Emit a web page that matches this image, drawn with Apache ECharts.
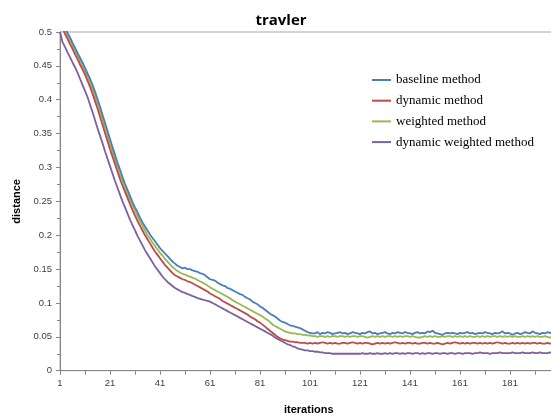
<!DOCTYPE html>
<html>
<head>
<meta charset="utf-8">
<script src="https://cdn.jsdelivr.net/npm/echarts@6/dist/echarts.min.js"></script>
<style>
html,body{margin:0;padding:0;background:#fff;}
#chart{width:551px;height:415px;}
</style>
</head>
<body>
<div id="chart"></div>
<script>
// iterations 1..200
var iterations = [];
for (var k = 1; k <= 200; k++) iterations.push(String(k));

var seriesNames = ['baseline method', 'dynamic method', 'weighted method', 'dynamic weighted method'];

var baseline = [
0.525,0.516,0.507,0.499,0.492,0.484,0.477,0.469,0.462,0.455,
0.447,0.439,0.431,0.422,0.412,0.401,0.390,0.378,0.366,0.354,
0.342,0.330,0.319,0.307,0.297,0.286,0.276,0.267,0.258,0.249,
0.241,0.234,0.226,0.219,0.213,0.207,0.201,0.196,0.191,0.186,
0.181,0.177,0.173,0.169,0.165,0.161,0.158,0.155,0.153,0.151,
0.152,0.150,0.150,0.148,0.147,0.146,0.144,0.143,0.141,0.138,
0.135,0.134,0.133,0.130,0.128,0.126,0.125,0.122,0.121,0.119,
0.117,0.115,0.113,0.112,0.109,0.107,0.105,0.102,0.100,0.098,
0.095,0.093,0.090,0.087,0.084,0.082,0.080,0.077,0.074,0.072,
0.071,0.069,0.067,0.066,0.065,0.064,0.063,0.061,0.059,0.057,
0.056,0.055,0.055,0.057,0.054,0.056,0.055,0.057,0.056,0.054,
0.055,0.056,0.057,0.055,0.056,0.054,0.055,0.057,0.056,0.055,
0.054,0.056,0.055,0.057,0.058,0.055,0.056,0.054,0.055,0.056,
0.057,0.055,0.054,0.056,0.055,0.057,0.056,0.055,0.057,0.056,
0.055,0.054,0.056,0.057,0.055,0.056,0.055,0.058,0.057,0.059,
0.056,0.055,0.054,0.053,0.055,0.056,0.055,0.056,0.055,0.054,
0.056,0.055,0.056,0.057,0.055,0.056,0.054,0.055,0.056,0.055,
0.057,0.056,0.055,0.054,0.056,0.055,0.056,0.058,0.055,0.056,
0.055,0.053,0.055,0.056,0.054,0.055,0.057,0.056,0.055,0.058,
0.056,0.055,0.054,0.056,0.055,0.057,0.056,0.055,0.057,0.056
];

var dynamic = [
0.515,0.506,0.497,0.490,0.482,0.475,0.467,0.460,0.452,0.445,
0.437,0.428,0.419,0.409,0.398,0.387,0.375,0.363,0.351,0.339,
0.327,0.316,0.305,0.294,0.283,0.273,0.264,0.255,0.246,0.237,
0.229,0.221,0.214,0.207,0.200,0.194,0.188,0.182,0.176,0.171,
0.166,0.161,0.156,0.152,0.148,0.144,0.141,0.139,0.137,0.135,
0.134,0.132,0.131,0.129,0.127,0.125,0.123,0.121,0.119,0.117,
0.114,0.112,0.110,0.108,0.106,0.103,0.101,0.099,0.097,0.095,
0.093,0.091,0.089,0.087,0.085,0.083,0.080,0.078,0.076,0.073,
0.071,0.068,0.065,0.062,0.059,0.056,0.053,0.050,0.048,0.046,
0.045,0.044,0.043,0.043,0.042,0.042,0.041,0.041,0.041,0.040,
0.041,0.040,0.041,0.040,0.041,0.042,0.041,0.040,0.041,0.040,
0.041,0.040,0.040,0.041,0.041,0.040,0.041,0.042,0.041,0.040,
0.041,0.040,0.041,0.041,0.040,0.039,0.040,0.041,0.040,0.041,
0.040,0.041,0.040,0.041,0.042,0.041,0.040,0.041,0.040,0.041,
0.041,0.040,0.041,0.040,0.040,0.041,0.041,0.040,0.041,0.040,
0.040,0.041,0.040,0.039,0.040,0.041,0.040,0.041,0.042,0.041,
0.040,0.041,0.040,0.041,0.040,0.041,0.041,0.040,0.041,0.040,
0.041,0.040,0.041,0.040,0.041,0.042,0.041,0.040,0.041,0.040,
0.040,0.041,0.040,0.041,0.040,0.041,0.040,0.041,0.040,0.041,
0.041,0.040,0.041,0.040,0.040,0.041,0.040,0.041,0.040,0.041
];

var weighted = [
0.522,0.513,0.503,0.495,0.488,0.480,0.472,0.465,0.457,0.450,
0.442,0.434,0.425,0.416,0.405,0.394,0.383,0.371,0.359,0.347,
0.335,0.323,0.312,0.301,0.290,0.280,0.270,0.261,0.252,0.244,
0.236,0.228,0.221,0.214,0.207,0.200,0.195,0.189,0.184,0.179,
0.174,0.170,0.165,0.161,0.157,0.153,0.150,0.147,0.145,0.143,
0.142,0.140,0.139,0.137,0.136,0.134,0.132,0.130,0.128,0.126,
0.123,0.121,0.119,0.117,0.115,0.113,0.111,0.109,0.107,0.104,
0.102,0.100,0.098,0.096,0.094,0.092,0.090,0.088,0.086,0.084,
0.082,0.080,0.077,0.075,0.072,0.068,0.066,0.064,0.062,0.060,
0.058,0.057,0.056,0.055,0.055,0.054,0.054,0.053,0.053,0.052,
0.052,0.051,0.051,0.050,0.051,0.051,0.050,0.051,0.050,0.051,
0.051,0.050,0.051,0.051,0.050,0.051,0.050,0.051,0.051,0.050,
0.051,0.051,0.050,0.049,0.050,0.051,0.050,0.051,0.050,0.051,
0.050,0.051,0.051,0.050,0.051,0.050,0.051,0.050,0.051,0.051,
0.050,0.051,0.050,0.049,0.049,0.050,0.051,0.050,0.051,0.050,
0.051,0.050,0.050,0.051,0.050,0.051,0.051,0.050,0.051,0.050,
0.051,0.050,0.051,0.050,0.051,0.050,0.050,0.051,0.050,0.051,
0.050,0.051,0.050,0.051,0.051,0.050,0.051,0.050,0.051,0.050,
0.051,0.050,0.051,0.050,0.050,0.051,0.050,0.051,0.050,0.051,
0.050,0.051,0.050,0.050,0.051,0.050,0.049,0.050,0.051,0.050
];

var dynamicWeighted = [
0.500,0.485,0.478,0.470,0.463,0.455,0.448,0.440,0.431,0.422,
0.413,0.404,0.393,0.382,0.370,0.358,0.347,0.336,0.324,0.313,
0.302,0.291,0.280,0.270,0.260,0.250,0.241,0.232,0.223,0.215,
0.207,0.199,0.192,0.185,0.178,0.172,0.166,0.160,0.154,0.149,
0.144,0.139,0.135,0.131,0.128,0.125,0.122,0.120,0.118,0.116,
0.115,0.113,0.112,0.110,0.109,0.107,0.106,0.105,0.104,0.103,
0.102,0.100,0.098,0.096,0.094,0.092,0.090,0.088,0.086,0.084,
0.082,0.080,0.078,0.076,0.074,0.072,0.070,0.068,0.066,0.064,
0.062,0.060,0.058,0.056,0.054,0.052,0.049,0.047,0.045,0.043,
0.041,0.039,0.038,0.036,0.035,0.033,0.032,0.031,0.030,0.030,
0.029,0.029,0.028,0.028,0.027,0.027,0.026,0.026,0.026,0.025,
0.025,0.025,0.025,0.025,0.025,0.025,0.025,0.025,0.025,0.025,
0.025,0.026,0.025,0.025,0.026,0.025,0.025,0.026,0.025,0.025,
0.026,0.025,0.026,0.025,0.026,0.026,0.025,0.026,0.025,0.026,
0.026,0.025,0.026,0.026,0.025,0.026,0.025,0.026,0.026,0.025,
0.026,0.026,0.025,0.026,0.026,0.025,0.026,0.026,0.025,0.026,
0.026,0.025,0.026,0.026,0.026,0.025,0.026,0.026,0.027,0.026,
0.026,0.026,0.025,0.026,0.026,0.026,0.027,0.026,0.026,0.026,
0.026,0.027,0.026,0.026,0.026,0.027,0.026,0.026,0.026,0.027,
0.026,0.026,0.027,0.026,0.026,0.026,0.027,0.026,0.026,0.026
];

var colors = ['#4a7ebb', '#be4b48', '#98b954', '#7d60a0'];
var values = [baseline, dynamic, weighted, dynamicWeighted];

var chart = echarts.init(document.getElementById('chart'), null, {renderer: 'canvas'});

var series = seriesNames.map(function (name, idx) {
  return {
    name: name,
    type: 'line',
    data: values[idx],
    symbol: 'none',
    showSymbol: false,
    clip: true,
    smooth: false,
    lineStyle: {color: colors[idx], width: 1.8},
    itemStyle: {color: colors[idx]},
    z: 10 - idx
  };
});

chart.setOption({
  animation: false,
  backgroundColor: '#ffffff',
  title: {
    text: 'travler',
    left: 276,
    textAlign: 'center',
    top: 8,
    textStyle: {fontFamily: 'Open Sans', fontWeight: 'bold', fontSize: 15, color: '#000'}
  },
  legend: {
    orient: 'vertical',
    left: 372,
    top: 73,
    padding: 0,
    itemWidth: 19,
    itemHeight: 2,
    itemGap: 6.7,
    icon: 'rect',
    data: seriesNames,
    textStyle: {fontFamily: 'Liberation Serif', fontSize: 13, color: '#000', lineHeight: 14}
  },
  grid: {
    left: 60,
    top: 32,
    width: 497.5,
    height: 338.7,
    outerBoundsMode: 'none',
    containLabel: false,
    show: true,
    borderColor: '#a6a6a6',
    borderWidth: 1,
    backgroundColor: 'transparent'
  },
  xAxis: {
    type: 'category',
    data: iterations,
    boundaryGap: false,
    name: 'iterations',
    nameLocation: 'middle',
    nameGap: 34,
    nameTextStyle: {fontFamily: 'Liberation Sans', fontWeight: 'bold', fontSize: 11, color: '#000'},
    axisLine: {lineStyle: {color: '#868686', width: 1}},
    axisTick: {show: true, interval: 9, length: 4, lineStyle: {color: '#868686'}},
    axisLabel: {interval: 19, margin: 8, fontFamily: 'Liberation Sans', fontSize: 9.5, color: '#404040'},
    splitLine: {show: false}
  },
  yAxis: {
    type: 'value',
    min: 0,
    max: 0.5,
    interval: 0.05,
    name: 'distance',
    nameLocation: 'middle',
    nameGap: 37,
    nameRotate: 90,
    nameTextStyle: {fontFamily: 'Liberation Sans', fontWeight: 'bold', fontSize: 11, color: '#000'},
    axisLine: {show: true, lineStyle: {color: '#868686', width: 1}},
    axisTick: {show: true, length: 4, lineStyle: {color: '#868686'}},
    minorTick: {show: true, splitNumber: 2, length: 3, lineStyle: {color: '#868686'}},
    axisLabel: {
      margin: 8,
      fontFamily: 'Liberation Sans',
      fontSize: 9.5,
      color: '#404040',
      formatter: function (v) { return String(Number(v.toFixed(2))); }
    },
    splitLine: {show: false}
  },
  series: series
});
</script>
</body>
</html>
